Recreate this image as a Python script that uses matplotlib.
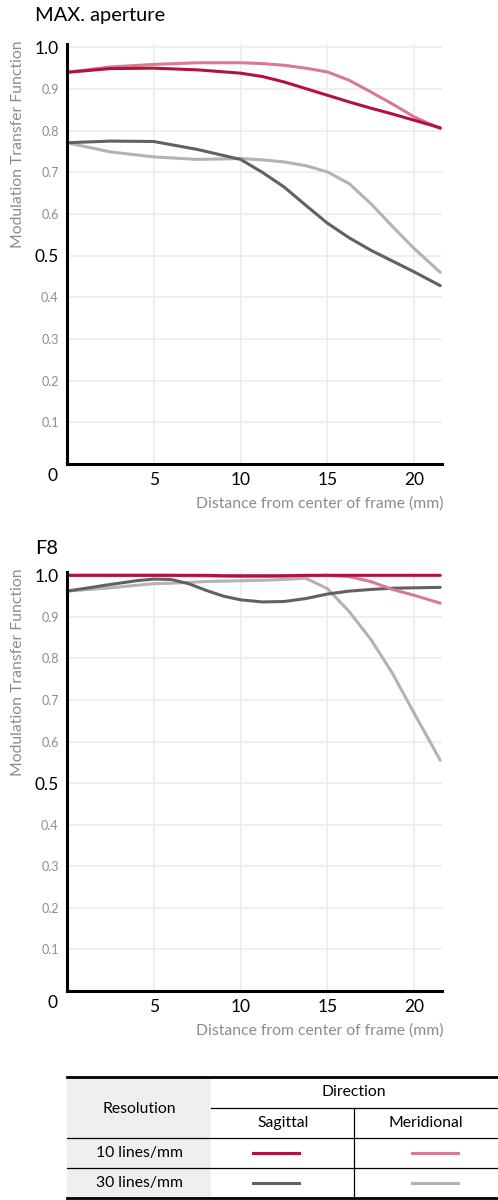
import matplotlib
matplotlib.use("Agg")
import matplotlib.pyplot as plt

plt.rcParams['font.family'] = ['Lato', 'DejaVu Sans']

# distances (mm) and MTF readings
dist_max = [0, 2.5, 5, 7.5, 10, 11.25, 12.5, 13.75, 15, 16.25, 17.5, 18.75, 20, 21.5]
max_s10 = [0.940, 0.949, 0.950, 0.946, 0.938, 0.930, 0.917, 0.901, 0.885, 0.869, 0.854, 0.840, 0.825, 0.807]
max_m10 = [0.940, 0.953, 0.959, 0.963, 0.963, 0.961, 0.957, 0.950, 0.941, 0.921, 0.893, 0.864, 0.833, 0.805]
max_s30 = [0.771, 0.775, 0.774, 0.755, 0.731, 0.700, 0.665, 0.621, 0.578, 0.543, 0.513, 0.487, 0.461, 0.428]
max_m30 = [0.771, 0.749, 0.737, 0.731, 0.733, 0.730, 0.725, 0.716, 0.701, 0.673, 0.625, 0.570, 0.517, 0.460]

dist_f8 = [0, 2.5, 4, 5, 6, 7, 8, 9, 10, 11.25, 12.5, 13.75, 15, 16.25, 17.5, 18.75, 20, 21.5]
f8_s10 = [1.0, 1.0, 1.0, 1.0, 1.0, 1.0, 1.0, 0.999, 0.999, 0.999, 0.999, 1.0, 1.0, 1.0, 1.0, 1.0, 1.0, 1.0]
f8_m10 = [1.0, 1.0, 1.0, 1.0, 1.0, 0.999, 0.999, 0.998, 0.997, 0.997, 0.998, 0.999, 1.0, 0.997, 0.985, 0.966, 0.952, 0.933]
f8_s30 = [0.962, 0.978, 0.987, 0.991, 0.990, 0.980, 0.964, 0.950, 0.941, 0.936, 0.937, 0.944, 0.955, 0.962, 0.966, 0.969, 0.970, 0.971]
f8_m30 = [0.962, 0.970, 0.976, 0.980, 0.981, 0.983, 0.985, 0.986, 0.987, 0.988, 0.990, 0.993, 0.968, 0.913, 0.846, 0.764, 0.668, 0.555]

yticks = [0.1, 0.2, 0.3, 0.4, 0.5, 0.6, 0.7, 0.8, 0.9, 1.0]
ytick_labels = ['0.1', '0.2', '0.3', '0.4', '0.5', '0.6', '0.7', '0.8', '0.9', '1.0']
xticks = [5, 10, 15, 20]

c_s10 = '#b3123d'
c_m10 = '#d97a93'
c_s30 = '#616161'
c_m30 = '#b3b3b3'
grey_txt = '#8c8c8c'

W, H = 498, 1200
fig = plt.figure(figsize=(W / 100, H / 100), dpi=100)


def px(x0, y0, x1, y1):
    # figure-pixel box -> fig fraction
    return [x0 / W, 1 - y1 / H, (x1 - x0) / W, (y1 - y0) / H]


def mtf_panel(box, title, title_y, dist, s10, m10, s30, m30):
    ax = fig.add_axes(px(*box))
    ax.set_xlim(0, 21.6)
    ax.set_ylim(0, 1.008)
    for s in ['top', 'right']:
        ax.spines[s].set_visible(False)
    for s in ['left', 'bottom']:
        ax.spines[s].set_linewidth(2.2)
        ax.spines[s].set_color('black')
    ax.set_yticks(yticks)
    ax.set_yticklabels(ytick_labels)
    for v, lab in zip(yticks, ax.get_yticklabels()):
        if v in (0.5, 1.0):
            lab.set_fontsize(12.5)
            lab.set_color('black')
        else:
            lab.set_fontsize(9)
            lab.set_color(grey_txt)
    ax.set_xticks(xticks)
    ax.set_xticklabels([str(t) for t in xticks], fontsize=12.5)
    ax.tick_params(length=0, pad=6)
    ax.grid(True, color='#eeeeee', lw=1.3)
    ax.set_axisbelow(True)
    ax.plot(dist, m30, color=c_m30, lw=2.2, solid_capstyle='round')
    ax.plot(dist, s30, color=c_s30, lw=2.2, solid_capstyle='round')
    ax.plot(dist, m10, color=c_m10, lw=2.2, solid_capstyle='round')
    ax.plot(dist, s10, color=c_s10, lw=2.2, solid_capstyle='round')
    fig.text(35 / W, 1 - title_y / H, title, fontsize=14.4, va='center', ha='left')
    fig.text(52 / W, 1 - (box[3] + 12) / H, '0', fontsize=12.5, va='center', ha='center')
    fig.text(443 / W, 1 - (box[3] + 40) / H, 'Distance from center of frame (mm)',
             fontsize=11.3, color=grey_txt, va='center', ha='right')
    fig.text(18 / W, 1 - (box[1] - 4) / H, 'Modulation Transfer Function',
             fontsize=11.3, color=grey_txt, rotation=90, va='top', ha='center')
    return ax


mtf_panel((67, 44, 442, 464), 'MAX. aperture', 15, dist_max, max_s10, max_m10, max_s30, max_m30)
mtf_panel((67, 572, 442, 991), 'F8', 548, dist_f8, f8_s10, f8_m10, f8_s30, f8_m30)

# legend table
tb = fig.add_axes([0, 0, 1, 1])
tb.set_xlim(0, W)
tb.set_ylim(H, 0)
tb.axis('off')
tb.patch.set_visible(False)
tb.fill_between([67, 211], 1077, 1198, color='#efeff1', lw=0)
tb.plot([67, W], [1077, 1077], color='black', lw=2)
tb.plot([67, W], [1198, 1198], color='black', lw=2)
tb.plot([211, W], [1108, 1108], color='black', lw=0.9)
tb.plot([67, W], [1138, 1138], color='black', lw=0.9)
tb.plot([67, W], [1168, 1168], color='black', lw=0.9)
tb.plot([354, 354], [1108, 1198], color='black', lw=0.9)
fs = 11.3
tb.text(354, 1092, 'Direction', fontsize=fs, ha='center', va='center')
tb.text(139, 1109, 'Resolution', fontsize=fs, ha='center', va='center')
tb.text(283, 1123, 'Sagittal', fontsize=fs, ha='center', va='center')
tb.text(426, 1123, 'Meridional', fontsize=fs, ha='center', va='center')
tb.text(139, 1153, '10 lines/mm', fontsize=fs, ha='center', va='center')
tb.text(139, 1183, '30 lines/mm', fontsize=fs, ha='center', va='center')
tb.plot([253, 299], [1153, 1153], color=c_s10, lw=2.2)
tb.plot([412, 458], [1153, 1153], color=c_m10, lw=2.2)
tb.plot([253, 299], [1183, 1183], color=c_s30, lw=2.2)
tb.plot([412, 458], [1183, 1183], color=c_m30, lw=2.2)

fig.savefig('out.png', dpi=100)
